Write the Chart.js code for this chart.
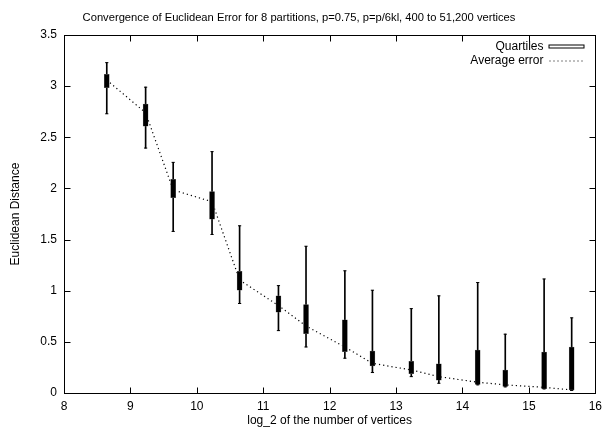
<!DOCTYPE html>
<html>
<head>
<meta charset="utf-8">
<script src="https://cdn.jsdelivr.net/npm/chart.js@4"></script>
<style>
  html, body { margin: 0; padding: 0; background: #fff; }
  #wrap { width: 608px; height: 430px; }
</style>
</head>
<body>
<div id="wrap"><canvas id="conv-chart"></canvas></div>
<script>
// log_2 of the vertex counts 400 ... 51,200
const sizes = [8.644, 9.229, 9.644, 10.229, 10.644, 11.229, 11.644, 12.229, 12.644, 13.229, 13.644, 14.229, 14.644, 15.229, 15.644];
const whiskerLow  = [2.73, 2.395, 1.58, 1.55, 0.875, 0.61, 0.45, 0.34, 0.20, 0.16, 0.095, 0.08, 0.06, 0.04, 0.025];
const quartile1   = [2.985, 2.61, 1.91, 1.70, 1.005, 0.79, 0.58, 0.405, 0.265, 0.19, 0.125, 0.085, 0.065, 0.042, 0.03];
const quartile3   = [3.115, 2.825, 2.09, 1.97, 1.19, 0.95, 0.865, 0.715, 0.41, 0.31, 0.285, 0.42, 0.225, 0.40, 0.45];
const whiskerHigh = [3.23, 2.99, 2.255, 2.36, 1.635, 1.05, 1.435, 1.195, 1.005, 0.825, 0.95, 1.08, 0.575, 1.115, 0.735];
const avgError    = [3.06, 2.74, 1.985, 1.87, 1.105, 0.855, 0.655, 0.45, 0.29, 0.225, 0.16, 0.105, 0.08, 0.055, 0.03];
const xTicks = [8, 9, 10, 11, 12, 13, 14, 15, 16];
const yTicks = [0, 0.5, 1, 1.5, 2, 2.5, 3, 3.5];

Chart.defaults.font.family = '"Liberation Sans", Arial, sans-serif';
Chart.defaults.font.size = 12;
Chart.defaults.color = '#000';

// gnuplot style frame with inward ticks on all four sides, plus the key
const gnuFrame = {
  id: 'gnuFrame',
  afterDraw(chart) {
    const { ctx, chartArea: a, scales } = chart;
    const L = Math.round(a.left) + 0.5, R = Math.round(a.right) + 0.5;
    const T = Math.round(a.top) + 0.5, B = Math.round(a.bottom) + 0.5;
    ctx.save();
    ctx.strokeStyle = '#000';
    ctx.lineWidth = 1;
    ctx.strokeRect(L, T, R - L, B - T);
    ctx.beginPath();
    xTicks.forEach(v => {
      const px = Math.round(scales.x.getPixelForValue(v)) + 0.5;
      ctx.moveTo(px, B); ctx.lineTo(px, B - 6);
      ctx.moveTo(px, T); ctx.lineTo(px, T + 6);
    });
    yTicks.forEach(v => {
      const py = Math.round(scales.y.getPixelForValue(v)) + 0.5;
      ctx.moveTo(L, py); ctx.lineTo(L + 6, py);
      ctx.moveTo(R, py); ctx.lineTo(R - 6, py);
    });
    ctx.stroke();

    // key
    ctx.font = '12px "Liberation Sans", Arial, sans-serif';
    ctx.fillStyle = '#000';
    ctx.textAlign = 'right';
    ctx.textBaseline = 'middle';
    const kx = R - 52;
    ctx.fillText('Quartiles', kx, T + 11);
    ctx.fillText('Average error', kx, T + 25);
    ctx.strokeRect(kx + 5.5, T + 9.5, 35, 3);
    ctx.setLineDash([1, 3]);
    ctx.beginPath();
    ctx.moveTo(kx + 6, T + 25.5); ctx.lineTo(kx + 41, T + 25.5);
    ctx.stroke();
    ctx.restore();
  }
};

const ctx = document.getElementById('conv-chart').getContext('2d');

new Chart(ctx, {
  type: 'bar',
  data: {
    datasets: [
      {
        type: 'line',
        label: 'Average error',
        data: sizes.map((x, i) => ({ x: x, y: avgError[i] })),
        borderColor: '#000',
        borderWidth: 1.2,
        borderDash: [1.2, 3],
        pointRadius: 0,
        fill: false,
        order: 3
      },
      {
        label: 'Whiskers',
        data: sizes.map((x, i) => ({ x: x, y: [whiskerLow[i], whiskerHigh[i]] })),
        backgroundColor: '#000',
        barThickness: 1,
        grouped: false,
        order: 2
      },
      {
        label: 'Quartiles',
        data: sizes.map((x, i) => ({ x: x, y: [quartile1[i], quartile3[i]] })),
        backgroundColor: '#000',
        borderColor: '#666',
        borderWidth: 0.5,
        borderSkipped: false,
        barThickness: 5,
        grouped: false,
        order: 1
      },
      {
        type: 'scatter',
        label: 'Caps',
        data: sizes.map((x, i) => ({ x: x, y: whiskerHigh[i] }))
          .concat(sizes.map((x, i) => ({ x: x, y: whiskerLow[i] }))),
        pointStyle: 'line',
        pointRadius: 1.6,
        borderColor: '#000',
        borderWidth: 1,
        order: 0
      }
    ]
  },
  options: {
    responsive: true,
    maintainAspectRatio: false,
    animation: false,
    layout: { padding: { left: 0, right: 10, top: 0, bottom: 0 } },
    plugins: {
      legend: { display: false },
      tooltip: { enabled: false },
      title: {
        display: true,
        text: 'Convergence of Euclidean Error for 8 partitions, p=0.75, p=p/6kl, 400 to 51,200 vertices',
        font: { size: 11.2, weight: 'normal' },
        padding: { top: 11.3, bottom: 10.3 }
      }
    },
    scales: {
      x: {
        type: 'linear',
        offset: false,
        min: 8,
        max: 16,
        afterBuildTicks: s => { s.ticks = xTicks.map(v => ({ value: v })); },
        afterFit: s => { s.height = 37; },
        ticks: { padding: 6, maxRotation: 0, callback: v => String(v) },
        grid: { display: false, drawTicks: false },
        border: { display: false },
        title: {
          display: true,
          text: 'log_2 of the number of vertices',
          font: { size: 12 },
          padding: { top: 0, bottom: 2 }
        }
      },
      y: {
        min: 0,
        max: 3.5,
        afterBuildTicks: s => { s.ticks = yTicks.map(v => ({ value: v })); },
        afterFit: s => { s.width = 64; },
        ticks: { padding: 7, callback: v => String(v) },
        grid: { display: false, drawTicks: false },
        border: { display: false },
        title: {
          display: true,
          text: 'Euclidean Distance',
          font: { size: 12 },
          padding: { top: 8.5, bottom: 0 }
        }
      }
    }
  },
  plugins: [gnuFrame]
});
</script>
</body>
</html>
